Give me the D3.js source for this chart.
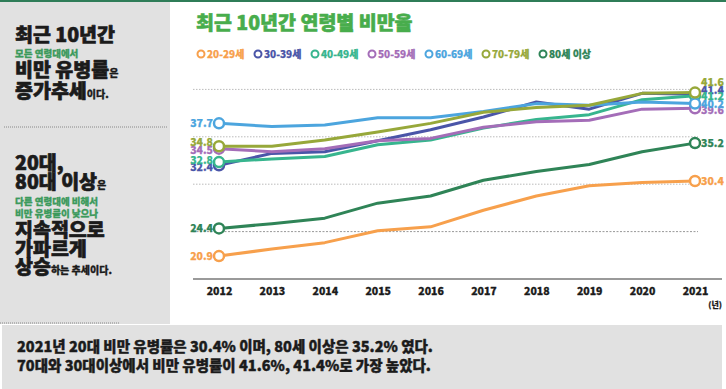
<!DOCTYPE html>
<html>
<head>
<meta charset="utf-8">
<script src="https://cdn.jsdelivr.net/npm/d3@7/dist/d3.min.js"></script>
<style>
  body { margin: 0; background: #fff; }
  svg text { font-family: "Noto Sans CJK KR", "Noto Sans", sans-serif; }
</style>
</head>
<body>
<script>

    var years = [2012, 2013, 2014, 2015, 2016, 2017, 2018, 2019, 2020, 2021];
    var ageGroups = ["20-29세", "30-39세", "40-49세", "50-59세", "60-69세", "70-79세", "80세 이상"];

    var rate20s = [20.9, 21.8, 22.6, 24.1, 24.6, 26.7, 28.5, 29.8, 30.2, 30.4];
    var rate30s = [32.4, 33.9, 34.1, 35.5, 36.9, 38.5, 40.4, 39.5, 41.5, 41.4];
    var rate40s = [32.8, 33.2, 33.5, 35.0, 35.6, 37.1, 38.2, 38.8, 40.7, 41.2];
    var rate50s = [34.5, 34.1, 34.5, 35.5, 35.8, 37.2, 37.9, 38.1, 39.5, 39.6];
    var rate60s = [37.7, 37.3, 37.5, 38.4, 38.4, 39.2, 40.2, 40.0, 40.4, 40.2];
    var rate70s = [34.8, 34.8, 35.6, 36.6, 37.7, 39.1, 39.7, 40.0, 41.5, 41.6];
    var rate80s = [24.4, 25.0, 25.7, 27.6, 28.5, 30.5, 31.6, 32.5, 34.1, 35.2];

    var gridValues = [24, 30, 36, 42];

    var colors = ["#f7a04c", "#4a55a8", "#37b58e", "#a46db8", "#4ca5de", "#97a83a", "#2f8457"];
    // label nudges so the stacked end labels do not sit on each other
    var leftNudge  = [0, 2, -2, 1, 0, -4, 0];
    var rightNudge = [0, -4, 0, 2, 0, -11, 0];

    var series = ageGroups.map((name, i) => ({
        name: name,
        color: colors[i],
        values: [rate20s, rate30s, rate40s, rate50s, rate60s, rate70s, rate80s][i]
    }));

    var width = 726, height = 389;
    var ink = "#1b1b1b", green = "#3c9a5c";

    var svg = d3.select("body").append("svg")
                .attr("width", width)
                .attr("height", height);

    // heavier look than plain bold: stroke the glyphs in their own colour
    function heavy(sel, w) {
        sel.each(function() {
            var t = d3.select(this);
            t.attr("stroke", t.attr("fill")).attr("stroke-width", w).attr("stroke-linejoin", "round");
        });
        return sel;
    }

    // panels
    svg.append("rect").attr("x", 0).attr("y", 2).attr("width", 170).attr("height", 322).attr("fill", "#e1e1e1");
    svg.append("rect").attr("x", 2).attr("y", 325).attr("width", 720).attr("height", 64).attr("fill", "#e1e1e1");
    svg.append("line").attr("x1", 0).attr("x2", width).attr("y1", 1).attr("y2", 1)
       .attr("stroke", "#2f7d58").attr("stroke-width", 2);
    svg.append("line").attr("x1", 4).attr("x2", 167).attr("y1", 127).attr("y2", 127)
       .attr("stroke", "#888").attr("stroke-width", 1).attr("stroke-dasharray", "1,1");
    svg.append("line").attr("x1", 0).attr("x2", 120).attr("y1", 323).attr("y2", 323)
       .attr("stroke", "#888").attr("stroke-width", 1).attr("stroke-dasharray", "1,1");

    // left side text
    function richLine(y, parts) {
        var t = svg.append("text").attr("x", 15).attr("y", y).attr("fill", ink).attr("font-weight", 900);
        parts.forEach(p => {
            var sp = t.append("tspan").attr("font-size", p[1]).attr("fill", p[2] || ink).text(p[0]);
            heavy(sp, p[1] > 12 ? 0.7 : 0.3);
        });
    }
    richLine(42, [["최근 10년간", 19.5]]);
    richLine(57, [["모든 연령대에서", 9.5, green]]);
    richLine(77, [["비만 유병률", 19.5], ["은", 10]]);
    richLine(98, [["증가추세", 19.5], ["이다.", 10]]);

    richLine(170, [["20대,", 19.5]]);
    richLine(189, [["80대 이상", 19.5], ["은", 10]]);
    richLine(205, [["다른 연령대에 비해서", 9.5, green]]);
    richLine(217, [["비만 유병률이 낮으나", 9.5, green]]);
    richLine(237, [["지속적으로", 19.5]]);
    richLine(256, [["가파르게", 19.5]]);
    richLine(274, [["상승", 19.5], ["하는 추세이다.", 10]]);

    // bottom summary
    heavy(svg.append("text").attr("x", 17).attr("y", 352).attr("font-size", 14.5).attr("font-weight", 900)
       .attr("fill", ink).text("2021년 20대 비만 유병률은 30.4% 이며, 80세 이상은 35.2% 였다."), 0.4);
    heavy(svg.append("text").attr("x", 17).attr("y", 371).attr("font-size", 14.5).attr("font-weight", 900)
       .attr("fill", ink).text("70대와 30대이상에서 비만 유병률이 41.6%, 41.4%로 가장 높았다."), 0.4);

    // title
    heavy(svg.append("text").attr("x", 196).attr("y", 30).attr("font-size", 19.5).attr("font-weight", 900)
       .attr("fill", "#48ad4c").text("최근 10년간 연령별 비만율"), 0.6);

    // legend
    var legend = svg.selectAll(".legend").data(series).enter().append("g")
                    .attr("transform", (d, i) => "translate(" + (201 + i * 57) + ",54)");
    legend.append("circle").attr("r", 3.5).attr("fill", "#fff")
          .attr("stroke", d => d.color).attr("stroke-width", 2);
    heavy(legend.append("text").attr("x", 6).attr("y", 3.5).attr("font-size", 10).attr("font-weight", 900)
          .attr("fill", d => d.color).text(d => d.name), 0.25);

    // scales
    var x = d3.scalePoint().domain(years).range([219, 695]);
    var y = d3.scaleLinear().domain([18, 42]).range([279, 89.4]);

    svg.selectAll(".grid").data(gridValues).enter().append("line")
       .attr("x1", 193).attr("x2", 698)
       .attr("y1", d => y(d)).attr("y2", d => y(d))
       .attr("stroke", d => d === 24 ? "#999" : "#bbb")
       .attr("stroke-width", 1)
       .attr("stroke-dasharray", d => d === 24 ? "2,1.5" : "1.5,1.5");

    var xAxis = svg.append("g").attr("transform", "translate(0,279)")
                   .call(d3.axisBottom(x).tickSize(0).tickPadding(9).tickFormat(d3.format("d")));
    xAxis.select(".domain").remove();
    xAxis.insert("line", ":first-child").attr("x1", 193).attr("x2", 722)
         .attr("stroke", "#9a9a9a").attr("stroke-width", 2);
    xAxis.selectAll("text").attr("font-size", 10.5).attr("font-weight", 900).attr("fill", ink)
         .style("font-family", "'Noto Sans CJK KR', sans-serif");
    heavy(xAxis.selectAll("text"), 0.3);
    heavy(svg.append("text").attr("x", 722).attr("y", 308).attr("text-anchor", "end")
       .attr("font-size", 8).attr("font-weight", 900).attr("fill", ink).text("(년)"), 0.2);

    // lines
    var line = d3.line().x((d, i) => x(years[i])).y(d => y(d));
    svg.selectAll(".series").data(series).enter().append("path")
       .attr("d", d => line(d.values))
       .attr("fill", "none")
       .attr("stroke", d => d.color)
       .attr("stroke-width", 3)
       .attr("stroke-linejoin", "round");

    // end markers and labels
    var last = years.length - 1;
    series.forEach((s, i) => {
        [0, last].forEach(k => {
            svg.append("circle").attr("cx", x(years[k])).attr("cy", y(s.values[k])).attr("r", 5)
               .attr("fill", "#fff").attr("stroke", s.color).attr("stroke-width", 2.5);
        });
        heavy(svg.append("text").attr("x", x(years[0]) - 6).attr("y", y(s.values[0]) + leftNudge[i] + 4)
           .attr("text-anchor", "end").attr("font-size", 10.5).attr("font-weight", 900)
           .attr("fill", s.color).text(s.values[0].toFixed(1)), 0.25);
        heavy(svg.append("text").attr("x", x(years[last]) + 6).attr("y", y(s.values[last]) + rightNudge[i] + 4)
           .attr("font-size", 10.5).attr("font-weight", 900)
           .attr("fill", s.color).text(s.values[last].toFixed(1)), 0.25);
    });

</script>
</body>
</html>
